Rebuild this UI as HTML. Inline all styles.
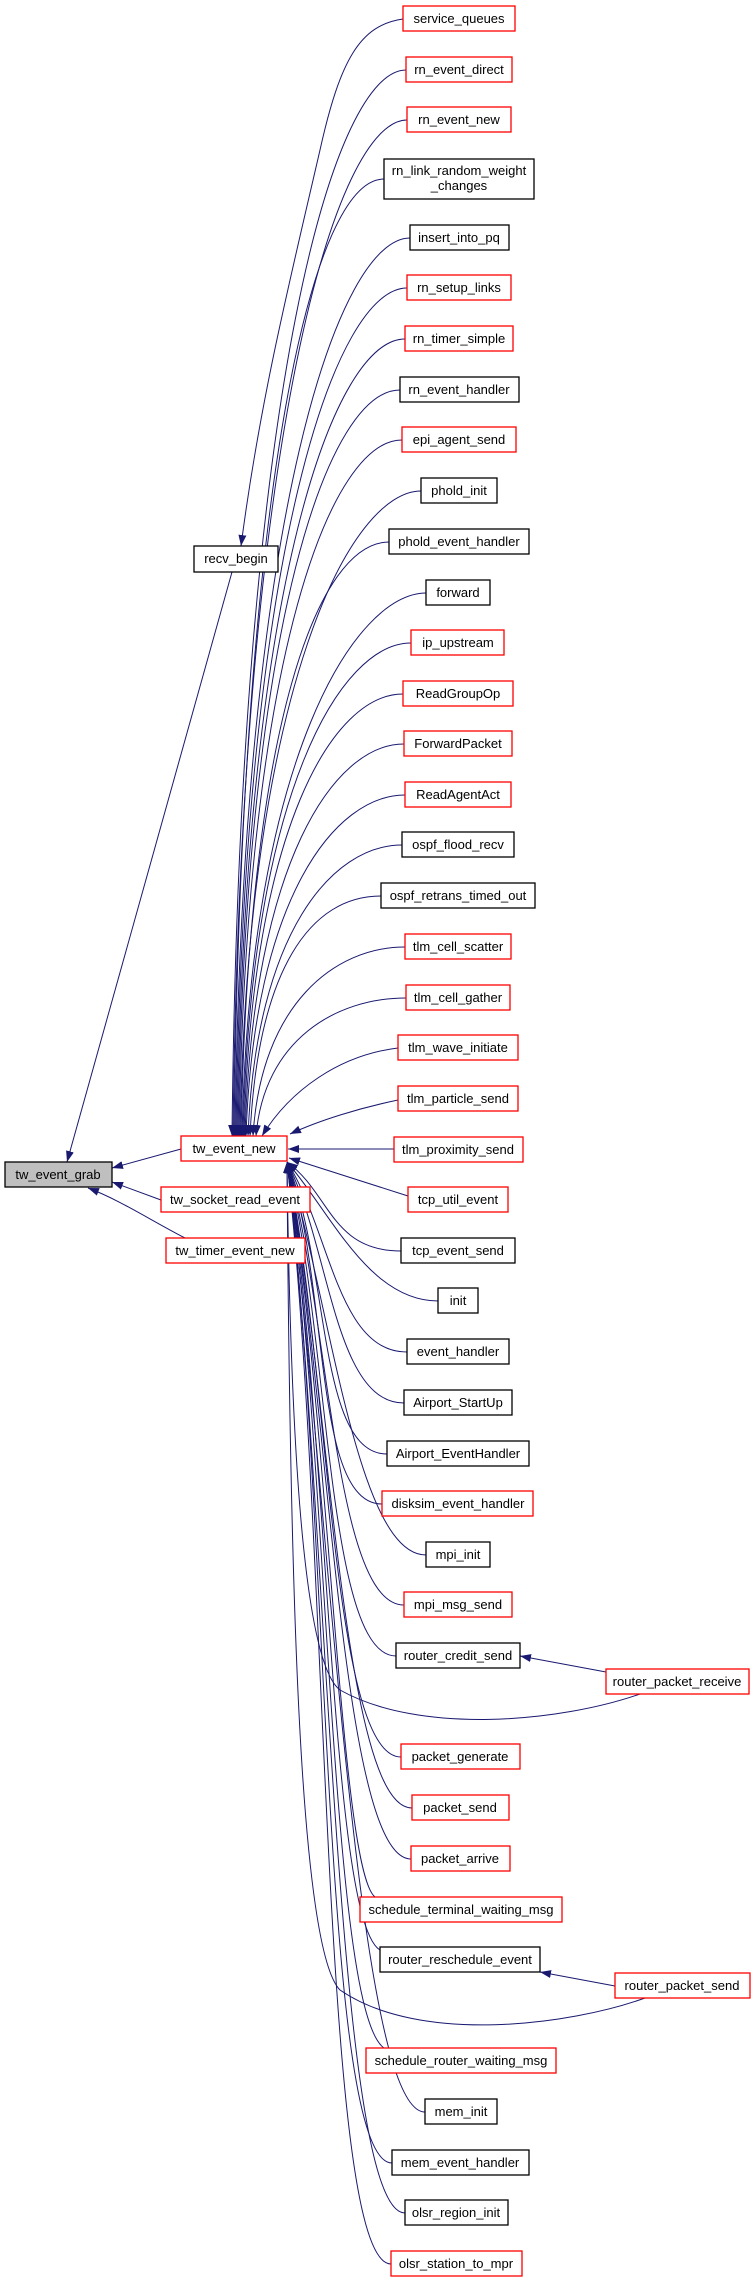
<!DOCTYPE html>
<html><head><meta charset="utf-8"><style>
html,body{margin:0;padding:0;background:#fff}
svg{display:block}
text{font-family:"Liberation Sans",sans-serif;font-size:13px;text-anchor:middle;fill:#000}
.r{fill:#fff;stroke:#ff0000;stroke-width:1.3}
.b{fill:#fff;stroke:#000;stroke-width:1.3}
.e{fill:none;stroke:#191970;stroke-width:1}
</style></head><body>
<svg width="752" height="2283" viewBox="0 0 752 2283" xmlns="http://www.w3.org/2000/svg">
<defs><marker id="a" markerWidth="11" markerHeight="8" refX="11" refY="4" orient="auto" markerUnits="userSpaceOnUse"><path d="M0,0 L11,4 L0,8 z" fill="#191970"/></marker></defs>
<g class="e" marker-end="url(#a)">
<path d="M403,19 C360,25 340,60 320,150 C290,280 260,400 241,546"/>
<path d="M232,572 L67,1162"/>
<path d="M181,1149 L112,1168"/>
<path d="M161,1200 L112,1182"/>
<path d="M185,1238 C150,1220 120,1200 88,1188"/>
<path d="M406,70 C336,70 240,373 232,1136"/>
<path d="M407,120 C337,120 241,425 233,1136"/>
<path d="M384,179 C314,179 242,466 234,1136"/>
<path d="M410,238 C340,238 243,505 235,1136"/>
<path d="M407,288 C337,288 244,540 236,1136"/>
<path d="M405,339 C335,339 245,578 237,1136"/>
<path d="M400,390 C330,390 246,613 238,1136"/>
<path d="M402,440 C332,440 247,649 239,1136"/>
<path d="M421,491 C351,491 248,685 240,1136"/>
<path d="M389,542 C319,542 249,720 241,1136"/>
<path d="M426,593 C356,593 250,756 242,1136"/>
<path d="M411,643 C341,643 251,791 243,1136"/>
<path d="M403,694 C333,694 252,827 244,1136"/>
<path d="M404,744 C334,744 253,862 245,1136"/>
<path d="M405,795 C335,795 254,898 246,1136"/>
<path d="M402,845 C332,845 256,933 248,1136"/>
<path d="M381,896 C311,896 258,968 250,1136"/>
<path d="M405,947 C335,947 261,1004 253,1136"/>
<path d="M406,998 C336,998 264,1040 256,1136"/>
<path d="M398,1048 C340,1055 290,1090 262,1136"/>
<path d="M398,1100 C360,1108 320,1120 290,1134"/>
<path d="M394,1149 L288,1149"/>
<path d="M408,1196 L289,1158"/>
<path d="M401,1251 C331,1251 330,1193 287,1162"/>
<path d="M438,1301 C368,1301 330,1211 287,1162"/>
<path d="M407,1352 C337,1352 330,1229 287,1162"/>
<path d="M404,1403 C334,1403 330,1246 287,1162"/>
<path d="M387,1454 C317,1454 330,1264 287,1162"/>
<path d="M382,1504 C312,1504 330,1282 287,1162"/>
<path d="M426,1555 C356,1555 330,1299 287,1162"/>
<path d="M404,1605 C334,1605 330,1317 287,1162"/>
<path d="M396,1656 C326,1656 330,1335 287,1162"/>
<path d="M401,1757 C331,1757 330,1370 287,1162"/>
<path d="M412,1808 C342,1808 330,1388 287,1162"/>
<path d="M411,1859 C341,1859 330,1406 287,1162"/>
<path d="M375,1897 C340,1870 330,1424 287,1162"/>
<path d="M380,1950 C330,1920 330,1442 287,1162"/>
<path d="M384,2048 C330,2010 330,1477 287,1162"/>
<path d="M425,2112 C355,2112 330,1495 287,1162"/>
<path d="M392,2163 C322,2163 330,1513 287,1162"/>
<path d="M405,2213 C335,2213 330,1530 287,1162"/>
<path d="M391,2264 C321,2264 330,1548 287,1162"/>
<path d="M606,1672 L520,1656"/>
<path d="M640,1694 C560,1722 420,1735 340,1690 C300,1660 290,1400 287,1162"/>
<path d="M615,1986 L540,1972"/>
<path d="M645,1998 C570,2025 420,2045 340,1990 C300,1950 290,1600 287,1162"/>
</g>
<rect x="5" y="1162" width="107" height="25" fill="#bfbfbf" stroke="#000" stroke-width="1.3"/><text x="58" y="1179">tw_event_grab</text>
<rect class="r" x="181" y="1136" width="106" height="25"/><text x="234" y="1153">tw_event_new</text>
<rect class="r" x="161" y="1187" width="149" height="25"/><text x="235" y="1204">tw_socket_read_event</text>
<rect class="r" x="166" y="1238" width="139" height="25"/><text x="235" y="1255">tw_timer_event_new</text>
<rect class="b" x="194" y="546" width="84" height="26"/><text x="236" y="563">recv_begin</text>
<rect class="r" x="403" y="6" width="112" height="25"/><text x="459" y="23">service_queues</text>
<rect class="r" x="406" y="57" width="106" height="25"/><text x="459" y="74">rn_event_direct</text>
<rect class="r" x="407" y="107" width="104" height="25"/><text x="459" y="124">rn_event_new</text>
<rect class="b" x="384" y="159" width="150" height="40"/><text x="459" y="175">rn_link_random_weight</text><text x="459" y="190">_changes</text>
<rect class="b" x="410" y="225" width="99" height="25"/><text x="459" y="242">insert_into_pq</text>
<rect class="r" x="407" y="275" width="104" height="25"/><text x="459" y="292">rn_setup_links</text>
<rect class="r" x="405" y="326" width="108" height="25"/><text x="459" y="343">rn_timer_simple</text>
<rect class="b" x="400" y="377" width="119" height="25"/><text x="459" y="394">rn_event_handler</text>
<rect class="r" x="402" y="427" width="114" height="25"/><text x="459" y="444">epi_agent_send</text>
<rect class="b" x="421" y="478" width="76" height="25"/><text x="459" y="495">phold_init</text>
<rect class="b" x="389" y="529" width="140" height="25"/><text x="459" y="546">phold_event_handler</text>
<rect class="b" x="426" y="580" width="64" height="25"/><text x="458" y="597">forward</text>
<rect class="r" x="411" y="630" width="93" height="25"/><text x="458" y="647">ip_upstream</text>
<rect class="r" x="403" y="681" width="110" height="25"/><text x="458" y="698">ReadGroupOp</text>
<rect class="r" x="404" y="731" width="108" height="25"/><text x="458" y="748">ForwardPacket</text>
<rect class="r" x="405" y="782" width="106" height="25"/><text x="458" y="799">ReadAgentAct</text>
<rect class="b" x="402" y="832" width="112" height="25"/><text x="458" y="849">ospf_flood_recv</text>
<rect class="b" x="381" y="883" width="154" height="25"/><text x="458" y="900">ospf_retrans_timed_out</text>
<rect class="r" x="405" y="934" width="106" height="25"/><text x="458" y="951">tlm_cell_scatter</text>
<rect class="r" x="406" y="985" width="104" height="25"/><text x="458" y="1002">tlm_cell_gather</text>
<rect class="r" x="398" y="1035" width="120" height="25"/><text x="458" y="1052">tlm_wave_initiate</text>
<rect class="r" x="398" y="1086" width="120" height="25"/><text x="458" y="1103">tlm_particle_send</text>
<rect class="r" x="394" y="1137" width="129" height="25"/><text x="458" y="1154">tlm_proximity_send</text>
<rect class="r" x="408" y="1187" width="100" height="25"/><text x="458" y="1204">tcp_util_event</text>
<rect class="b" x="401" y="1238" width="114" height="25"/><text x="458" y="1255">tcp_event_send</text>
<rect class="b" x="438" y="1288" width="40" height="25"/><text x="458" y="1305">init</text>
<rect class="b" x="407" y="1339" width="102" height="25"/><text x="458" y="1356">event_handler</text>
<rect class="b" x="404" y="1390" width="108" height="25"/><text x="458" y="1407">Airport_StartUp</text>
<rect class="b" x="387" y="1441" width="142" height="25"/><text x="458" y="1458">Airport_EventHandler</text>
<rect class="r" x="382" y="1491" width="151" height="25"/><text x="458" y="1508">disksim_event_handler</text>
<rect class="b" x="426" y="1542" width="64" height="25"/><text x="458" y="1559">mpi_init</text>
<rect class="r" x="404" y="1592" width="108" height="25"/><text x="458" y="1609">mpi_msg_send</text>
<rect class="b" x="396" y="1643" width="124" height="25"/><text x="458" y="1660">router_credit_send</text>
<rect class="r" x="606" y="1669" width="143" height="25"/><text x="677" y="1686">router_packet_receive</text>
<rect class="r" x="401" y="1744" width="119" height="25"/><text x="460" y="1761">packet_generate</text>
<rect class="r" x="412" y="1795" width="97" height="25"/><text x="460" y="1812">packet_send</text>
<rect class="r" x="411" y="1846" width="99" height="25"/><text x="460" y="1863">packet_arrive</text>
<rect class="r" x="360" y="1897" width="202" height="25"/><text x="461" y="1914">schedule_terminal_waiting_msg</text>
<rect class="b" x="380" y="1947" width="160" height="25"/><text x="460" y="1964">router_reschedule_event</text>
<rect class="r" x="615" y="1973" width="135" height="25"/><text x="682" y="1990">router_packet_send</text>
<rect class="r" x="366" y="2048" width="190" height="25"/><text x="461" y="2065">schedule_router_waiting_msg</text>
<rect class="b" x="425" y="2099" width="72" height="25"/><text x="461" y="2116">mem_init</text>
<rect class="b" x="392" y="2150" width="137" height="25"/><text x="460" y="2167">mem_event_handler</text>
<rect class="b" x="405" y="2200" width="103" height="25"/><text x="456" y="2217">olsr_region_init</text>
<rect class="r" x="391" y="2251" width="131" height="25"/><text x="456" y="2268">olsr_station_to_mpr</text>
</svg>
</body></html>
